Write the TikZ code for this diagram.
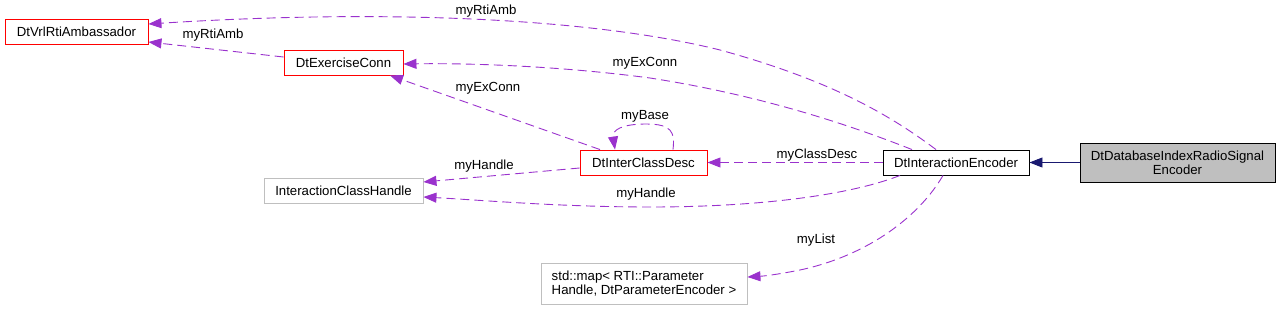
\documentclass[tikz,border=0pt]{standalone}
\usepackage{fontspec}
\setmainfont{Liberation Sans}
\usetikzlibrary{arrows.meta}
\definecolor{dep}{HTML}{9A32CD}
\definecolor{inh}{HTML}{191970}
\definecolor{gfill}{HTML}{BFBFBF}
\begin{document}
\begin{tikzpicture}[x=1pt,y=-1pt,
  every node/.style={font=\fontsize{13.2}{14}\selectfont, inner sep=0pt},
  box/.style={draw, line width=0.9pt, fill=white, align=center},
  redbox/.style={box, draw=red},
  greybox/.style={box, draw=gfill},
  blackbox/.style={box, draw=black},
  depline/.style={draw=dep, line width=0.9pt, dash pattern=on 9pt off 5pt,
    -{Triangle[length=13pt,width=10pt,fill=dep]}},
  inhline/.style={draw=inh, line width=0.9pt,
    -{Triangle[length=13pt,width=10pt,fill=inh]}},
  lbl/.style={text=black}]
\path[use as bounding box] (0,0) rectangle (1280,309);

\node[redbox, minimum width=143pt, minimum height=25pt] (amb) at (76.5,31.5) {DtVrlRtiAmbassador};
\node[redbox, minimum width=119pt, minimum height=25pt] (exc) at (343.5,62.5) {DtExerciseConn};
\node[redbox, minimum width=127pt, minimum height=25pt] (icd) at (643.5,162.5) {DtInterClassDesc};
\node[greybox, minimum width=159pt, minimum height=25pt] (ich) at (343.5,190.5) {InteractionClassHandle};
\node[blackbox, minimum width=146pt, minimum height=25pt] (enc) at (956,162.5) {DtInteractionEncoder};
\node[box, fill=gfill, minimum width=195pt, minimum height=39pt] (db) at (1177.5,162.5) {DtDatabaseIndexRadioSignal\\Encoder};
\node[greybox, minimum width=206pt, minimum height=41pt, align=left] (map) at (644,283.5) {std::map\textless{} RTI::Parameter\\Handle, DtParameterEncoder \textgreater{}};

% inheritance
\draw[inhline] (db.west) -- (enc.east);

% myRtiAmb (top)
\draw[depline] ([xshift=-20pt]enc.north) .. controls (890,115) and (830,80) .. (720,50)
  .. controls (600,20) and (400,8) .. ([yshift=7.5pt]amb.east);
\node[lbl] (l1) at (486,11) {myRtiAmb};

% myRtiAmb (exercise conn)
\draw[depline] ([yshift=5.5pt]exc.west) -- ([yshift=-10.5pt]amb.east);
\node[lbl] (l2) at (213,35) {myRtiAmb};

% myExConn (encoder)
\draw[depline] ([xshift=-44pt]enc.north) .. controls (850,125) and (760,95) .. (650,78)
  .. controls (560,66) and (470,63) .. ([yshift=-1.5pt]exc.east);
\node[lbl] (l3) at (645,63) {myExConn};

% myExConn (interclassdesc)
\draw[depline] ([xshift=-43.5pt]icd.north) -- ([xshift=46.5pt]exc.south);
\node[lbl] (l4) at (488,88) {myExConn};

% myBase self loop
\draw[depline] ([xshift=29.5pt]icd.north) .. controls (675,132) and (672,124) .. (646,124)
  .. controls (622,124) and (612,130) .. ([xshift=-28.5pt]icd.north);
\node[lbl] (l5) at (645,116) {myBase};

% myClassDesc
\draw[depline] (enc.west) -- (icd.east);
\node[lbl] (l6) at (817,155) {myClassDesc};

% myHandle (interclassdesc)
\draw[depline] ([yshift=-5.5pt]icd.west) -- ([yshift=8.5pt]ich.east);
\node[lbl] (l7) at (484,166) {myHandle};

% myHandle (encoder)
\draw[depline] ([xshift=-56pt]enc.south) .. controls (850,195) and (760,207) .. (650,207)
  .. controls (560,207) and (480,200) .. ([yshift=-6.5pt]ich.east);
\node[lbl] (l8) at (646,194) {myHandle};

% myList
\draw[depline] ([xshift=-13pt]enc.south) .. controls (920,215) and (870,255) .. (800,270)
  .. controls (780,274) and (765,276) .. ([yshift=6.5pt]map.east);
\node[lbl] (l9) at (816,240) {myList};
\end{tikzpicture}
\end{document}
